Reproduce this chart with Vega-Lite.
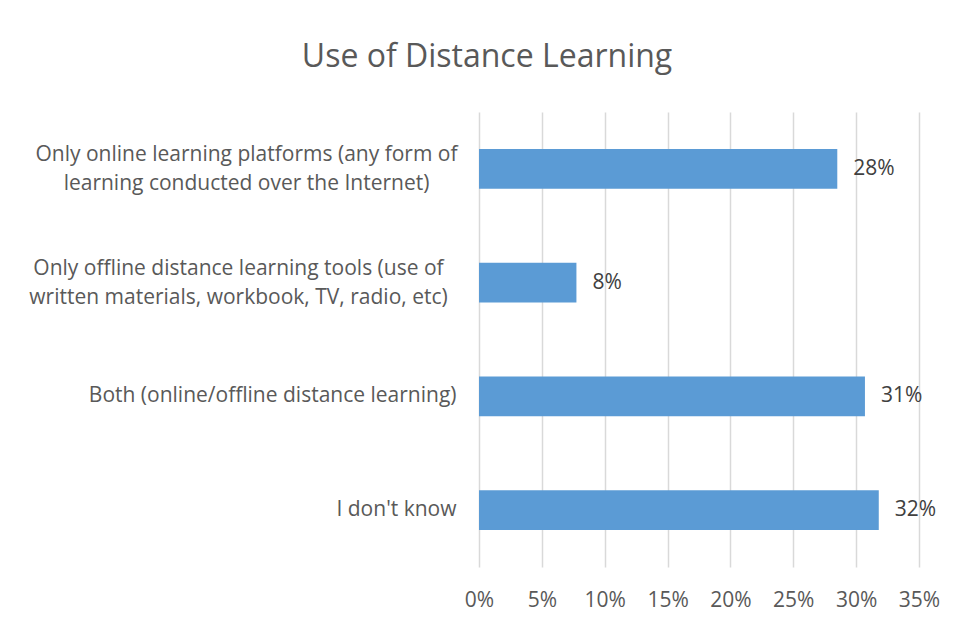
{
  "$schema": "https://vega.github.io/schema/vega-lite/v6.json",
  "width": 440,
  "height": 455,
  "autosize": "none",
  "padding": {"left": 479, "top": 112, "right": 38, "bottom": 52},
  "background": "white",
  "title": {
    "text": "Use of Distance Learning",
    "font": "Open Sans",
    "fontSize": 32,
    "fontWeight": "normal",
    "color": "#595959",
    "anchor": "middle",
    "frame": "group",
    "dx": -212,
    "offset": 38
  },
  "data": {
    "values": [
      {"category": "Only online learning platforms (any form of|learning conducted over the Internet)", "value": 0.285, "label": "28%"},
      {"category": "Only offline distance learning tools (use of|written materials, workbook, TV, radio, etc)", "value": 0.0775, "label": "8%"},
      {"category": "Both (online/offline distance learning)", "value": 0.307, "label": "31%"},
      {"category": "I don't know", "value": 0.318, "label": "32%"}
    ]
  },
  "encoding": {
    "y": {
      "field": "category",
      "type": "nominal",
      "sort": null,
      "scale": {"paddingInner": 0.65, "paddingOuter": 0.325},
      "axis": {
        "title": null,
        "domain": false,
        "ticks": false,
        "grid": false,
        "labelFont": "Open Sans",
        "labelFontSize": 21,
        "labelColor": "#595959",
        "labelLimit": 480,
        "labelLineHeight": 29,
        "labelExpr": "split(datum.label, '|')",
        "labelAlign": {"condition": {"test": "indexof(datum.label, '|') >= 0", "value": "center"}, "value": "right"},
        "labelOffset": {"condition": {"test": "indexof(datum.label, '|') >= 0", "value": -14}, "value": 0},
        "labelPadding": {"condition": [
          {"test": "indexof(datum.label, 'offline distance learning tools') >= 0", "value": 241},
          {"test": "indexof(datum.label, '|') >= 0", "value": 233}
        ], "value": 23}
      }
    },
    "x": {
      "field": "value",
      "type": "quantitative",
      "scale": {"domain": [0, 0.35], "nice": false},
      "axis": {
        "title": null,
        "format": ".0%",
        "values": [0, 0.05, 0.1, 0.15, 0.2, 0.25, 0.3, 0.35],
        "domain": false,
        "ticks": false,
        "grid": true,
        "gridColor": "#d9d9d9",
        "gridWidth": 1.5,
        "labelFont": "Open Sans",
        "labelFontSize": 21,
        "labelColor": "#595959",
        "labelPadding": 22,
        "labelFlush": false,
        "labelOverlap": false
      }
    }
  },
  "layer": [
    {"mark": {"type": "bar", "color": "#5b9bd5"}},
    {
      "mark": {"type": "text", "align": "left", "baseline": "middle", "dx": 16, "font": "Open Sans", "fontSize": 21, "color": "#404040"},
      "encoding": {"text": {"field": "label"}}
    }
  ],
  "config": {"view": {"stroke": null}}
}
